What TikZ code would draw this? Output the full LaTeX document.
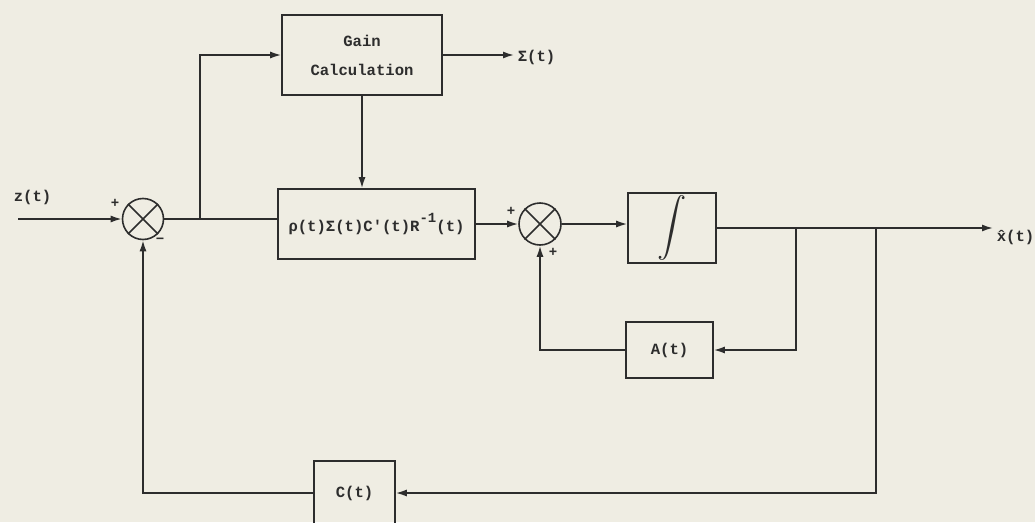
\documentclass[tikz,border=0pt]{standalone}
\usepackage{fontspec}
\setmonofont{Liberation Mono}
\usetikzlibrary{arrows.meta}
\definecolor{paper}{RGB}{239,237,227}
\definecolor{ink}{RGB}{45,45,45}
\newcommand\lblfont{\fontsize{15.6}{29}\selectfont\ttfamily\bfseries}
\newcommand\sgnfont{\fontsize{14}{14}\selectfont\ttfamily\bfseries}
\begin{document}
\begin{tikzpicture}[x=1pt,y=-1pt,color=ink,line width=1.6pt,
  blk/.style={draw,rectangle,inner sep=0pt,font=\lblfont,align=center},
  sumnode/.style={draw,circle,inner sep=0pt,minimum size=41pt},
  lbl/.style={inner sep=3pt,font=\lblfont},
  sgn/.style={inner sep=0pt,font=\sgnfont},
  arr/.style={-{Latex[length=11pt,width=7pt]}}]
\fill[paper] (0,0) rectangle (1035,522);
\useasboundingbox (0,0) rectangle (1035,522);
\clip (0,0) rectangle (1035,522);
% blocks
\node[blk,minimum width=160pt,minimum height=80pt] (gain) at (362,55) {Gain\\Calculation};
\node[blk,minimum width=197pt,minimum height=70pt] (K) at (376.5,224)
  {ρ(t)Σ(t)C'(t)R\raisebox{0.55em}{\fontsize{14}{14}\selectfont -1}(t)};
\node[blk,minimum width=88pt,minimum height=70pt] (int) at (672,228)
  {\resizebox{!}{43pt}{$\displaystyle\int$}};
\node[blk,minimum width=87pt,minimum height=56pt] (A) at (669.5,350) {A(t)};
\node[blk,minimum width=81pt,minimum height=64pt] (C) at (354.5,493) {C(t)};
% summing junctions
\node[sumnode] (s1) at (143,219) {};
\draw (s1.north west) -- (s1.south east) (s1.north east) -- (s1.south west);
\node[sumnode,minimum size=42pt] (s2) at (540,224) {};
\draw (s2.north west) -- (s2.south east) (s2.north east) -- (s2.south west);
% labels
\node[lbl,anchor=west] (zin) at (10,197) {z(t)};
\node[lbl,anchor=west] (sig) at (514,57) {Σ(t)};
\node[lbl,anchor=west] (xhat) at (993,237) {\^x(t)};
\node[sgn] (p1) at (115,203) {+};
\node[sgn] (m1) at (160,241) {−};
\node[sgn] (p2) at (511,211) {+};
\node[sgn] (p3) at (553,252) {+};
% connectors
\coordinate (in) at (18,219);
\coordinate (b1) at (200,219);
\coordinate (b2) at (796,228);
\coordinate (b3) at (876,228);
\draw[arr] (in) -- (s1.west);
\draw (s1.east) -- (s1.east -| K.west);
\draw[arr] (b1) |- (gain.west);
\draw[arr] (gain.east) -- (gain.east -| sig.west);
\draw[arr] (gain.south) -- (gain.south |- K.north);
\draw[arr] (K.east) -- (s2.west);
\draw[arr] (s2.east) -- (s2.east -| int.west);
\draw[arr] (int.east) -- (int.east -| xhat.west);
\draw[arr] (b2) |- (A.east);
\draw[arr] (A.west) -| (s2.south);
\draw[arr] (b3) |- (C.east);
\draw[arr] (C.west) -| (s1.south);
\end{tikzpicture}
\end{document}
